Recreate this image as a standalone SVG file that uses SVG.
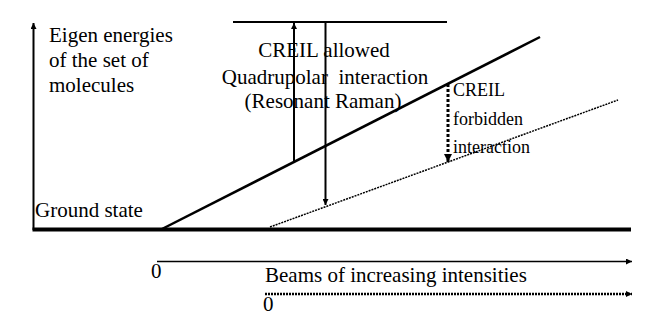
<svg xmlns="http://www.w3.org/2000/svg" width="656" height="327" viewBox="0 0 656 327">
<style>
text{font-family:"Liberation Serif","Times New Roman",serif;fill:#000}
.t{font-size:21px}
.s{font-size:18px}
.ln{stroke:#000;fill:none}
</style>
<defs>
<marker id="ah" viewBox="0 0 10 10" refX="10" refY="5" markerWidth="7" markerHeight="6" markerUnits="userSpaceOnUse" orient="auto">
<path d="M0,0 L10,5 L0,10 z" fill="#000"/>
</marker>
<marker id="ah2" viewBox="0 0 10 10" refX="10" refY="5" markerWidth="8" markerHeight="8" markerUnits="userSpaceOnUse" orient="auto">
<path d="M0,0 L10,5 L0,10 z" fill="#000"/>
</marker>
</defs>
<rect width="656" height="327" fill="#fff"/>
<g id="connectors">
<line class="ln" x1="33.5" y1="230" x2="33.5" y2="23" stroke-width="2" marker-end="url(#ah)"/>
<line class="ln" x1="32.5" y1="229.5" x2="631" y2="229.5" stroke-width="4"/>
<line class="ln" x1="233" y1="22" x2="447" y2="22" stroke-width="2"/>
<line class="ln" x1="162" y1="229" x2="540" y2="37" stroke-width="2.5"/>
<line class="ln" x1="270" y1="227" x2="618" y2="100" stroke-width="1.5" stroke-dasharray="2,1"/>
<line class="ln" x1="294" y1="162" x2="294" y2="23" stroke-width="2" marker-end="url(#ah)"/>
<line class="ln" x1="325.5" y1="22" x2="325.5" y2="205" stroke-width="2" marker-end="url(#ah)"/>
<line class="ln" x1="448" y1="84" x2="448" y2="162" stroke-width="3" stroke-dasharray="3,2" marker-end="url(#ah2)"/>
<line class="ln" x1="157" y1="261.5" x2="632" y2="261.5" stroke-width="1.5" marker-end="url(#ah)"/>
<line class="ln" x1="265" y1="294" x2="632" y2="294" stroke-width="2.5" stroke-dasharray="2,1" marker-end="url(#ah)"/>
</g>
<g id="yaxis-label">
<text class="t" x="49" y="42">Eigen energies</text>
<text class="t" x="49" y="67">of the set of</text>
<text class="t" x="49" y="92">molecules</text>
</g>
<g id="ground-state">
<text class="t" x="35" y="217">Ground state</text>
</g>
<g id="allowed-label">
<text class="t" x="324" y="57" text-anchor="middle">CREIL allowed</text>
<text class="t" x="325" y="84" text-anchor="middle" xml:space="preserve">Quadrupolar  interaction</text>
<text class="t" x="323" y="108" text-anchor="middle">(Resonant Raman)</text>
</g>
<g id="forbidden-label">
<text class="s" x="453" y="96">CREIL</text>
<text class="s" x="453" y="125">forbidden</text>
<text class="s" x="453" y="153">interaction</text>
</g>
<g id="beam-axis">
<text class="t" x="151" y="278">0</text>
<text class="t" x="265" y="282">Beams of increasing intensities</text>
<text class="t" x="263" y="311">0</text>
</g>
</svg>
